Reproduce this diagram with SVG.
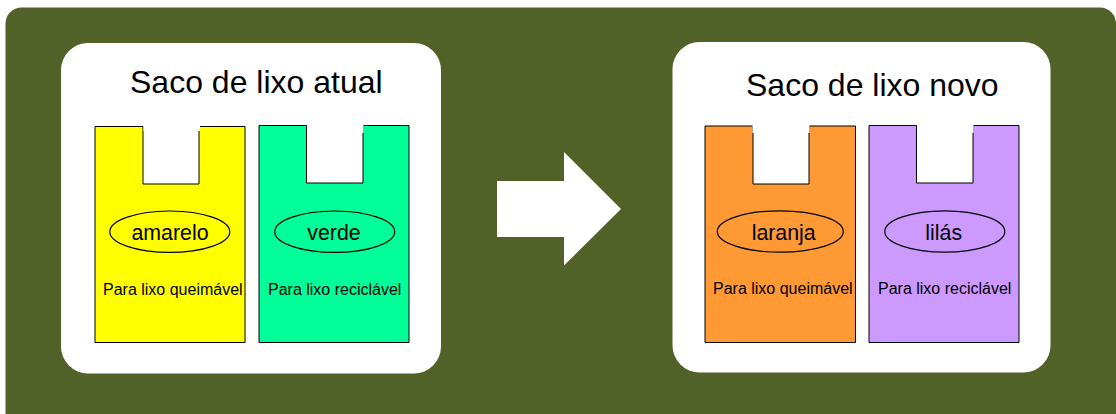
<svg xmlns="http://www.w3.org/2000/svg" width="1116" height="414" viewBox="0 0 1116 414">
<style>
text{font-family:"Liberation Sans",Arial,sans-serif;fill:#000}
.title{font-size:32px}
.name{font-size:21.33px;text-anchor:middle}
.note{font-size:16px}
.bag{stroke:#000;stroke-width:1}
.tag{fill:none;stroke:#000;stroke-width:1.2}
.card{fill:#fff}
</style>
<rect width="1116" height="414" fill="#fff"/>
<rect id="background" x="5.5" y="7.5" width="1110.500" height="425" rx="16" fill="#526128"/>
<g id="card-atual"><rect class="card" x="61" y="43" width="380" height="330.500" rx="27"/>
<text class="title" x="130" y="93">Saco de lixo atual</text></g>
<g id="card-novo"><rect class="card" x="672.500" y="42" width="378" height="330.500" rx="27"/>
<text class="title" x="746" y="96">Saco de lixo novo</text></g>
<g id="bag-amarelo"><path class="bag" fill="#ffff00" d="M95 342.500V126.500H143V184H199V126.500H245V342.500Z"/><rect x="143.500" y="125" width="56.500" height="6" fill="#fff"/>
<ellipse class="tag" cx="169.800" cy="231.700" rx="60" ry="20.700"/><text class="name" x="170" y="240">amarelo</text><text class="note" x="103" y="295">Para lixo queimável</text></g>
<g id="bag-verde"><path class="bag" fill="#00ff99" d="M259 342.500V125.500H306.500V183H363V125.500H409V342.500Z"/><rect x="307" y="124" width="56.500" height="9" fill="#fff"/>
<ellipse class="tag" cx="334.700" cy="231.700" rx="60" ry="20.700"/><text class="name" x="334" y="240">verde</text><text class="note" x="268" y="295">Para lixo reciclável</text></g>
<g id="bag-laranja"><path class="bag" fill="#ff9933" d="M705 342.500V126H753V184H809V126H855.500V342.500Z"/><rect x="752.500" y="125" width="57" height="8" fill="#fff"/>
<ellipse class="tag" cx="780.300" cy="231.500" rx="63" ry="20.700"/><text class="name" x="783.700" y="240">laranja</text><text class="note" x="713" y="294">Para lixo queimável</text></g>
<g id="bag-lilas"><path class="bag" fill="#cc99ff" d="M869 342.500V125.500H916.500V183H973V125.500H1019V342.500Z"/><rect x="917" y="124" width="56.500" height="9" fill="#fff"/>
<ellipse class="tag" cx="944.800" cy="231.500" rx="60" ry="20.700"/><text class="name" x="943.700" y="240">lilás</text><text class="note" x="878" y="294">Para lixo reciclável</text></g>
<g id="connectors"><polygon points="497,181 564,181 564,152 621,209 564,265.500 564,237 497,237" fill="#fff"/></g>
</svg>
